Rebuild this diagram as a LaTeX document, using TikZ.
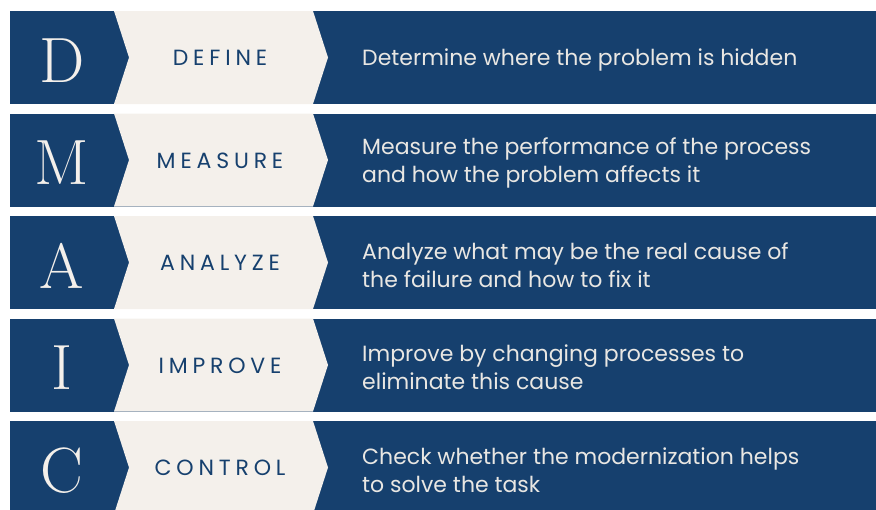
\documentclass[tikz,border=0pt]{standalone}
\usepackage{fontspec}
\newfontfamily\poppins{Poppins}
\newfontfamily\poppinswide[LetterSpace=22]{Poppins}
\definecolor{navy}{HTML}{16406E}
\definecolor{cream}{HTML}{F4F0EB}
\definecolor{paper}{HTML}{E9E7E3}
\begin{document}
\begin{tikzpicture}[x=1pt,y=-1pt,
  letter/.style={text=cream,inner sep=0,font=\fontsize{64}{64}\selectfont},
  phase/.style={text=navy,inner sep=0,font=\poppinswide\fontsize{22}{22}\selectfont},
  descr/.style={text=paper,inner sep=0,anchor=west,align=left,font=\poppins\fontsize{22}{28}\selectfont}]
\useasboundingbox (0,0) rectangle (876,509);
\clip (0,0) rectangle (876,509);
\foreach \top/\L/\P/\T [count=\i] in {
  11/D/DEFINE/{Determine where the problem is hidden},
  113.5/M/MEASURE/{Measure the performance of the process\\and how the problem affects it},
  216/A/ANALYZE/{Analyze what may be the real cause of\\the failure and how to fix it},
  318.5/I/IMPROVE/{Improve by changing processes to\\eliminate this cause},
  421/C/CONTROL/{Check whether the modernization helps\\to solve the task}}
{
  \fill[navy] (10,\top) rectangle (876,\top+93);
  \fill[cream] (114,\top) -- (313,\top) -- (328,\top+46.5) -- (313,\top+93) -- (114,\top+93) -- (129,\top+46.5) -- cycle;
  \node[letter] (letter\i) at (62,\top+49.5) {\L};
  \node[phase] (phase\i) at (220,\top+47) {\P};
  \node[descr] (descr\i) at (362,\top+49) {\T};
}
\end{tikzpicture}
\end{document}
